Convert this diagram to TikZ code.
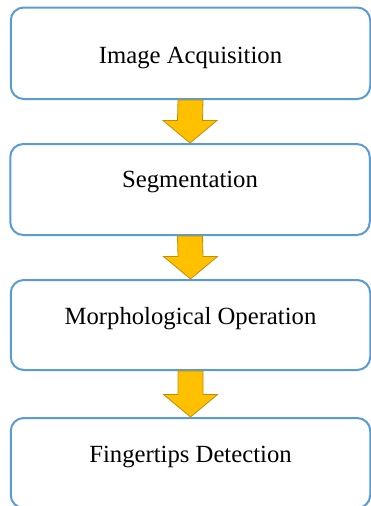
\documentclass[tikz,border=0pt]{standalone}
\usepackage{fontspec}
\setmainfont{Liberation Serif}
\usepackage{tikz}
\usetikzlibrary{calc}
\definecolor{stageblue}{HTML}{5B9BD5}
\definecolor{flowfill}{HTML}{FFC000}
\definecolor{flowline}{HTML}{BF9000}
\tikzstyle{stage}=[
        draw=stageblue,
        line width=2pt,
        rounded corners=13pt,
        fill=white,
        inner sep=0pt,
        minimum width=359.5pt,
        font=\fontsize{24.7}{28}\selectfont
]
\tikzstyle{flow}=[
        draw=flowline,
        fill=flowfill,
        line width=0.8pt,
        line join=miter
]

\begin{document}
\begin{tikzpicture}[x=1pt,y=-1pt]
                        \useasboundingbox (0,0) rectangle (370,506);

                        \node[stage, minimum height=91.5pt, text height=24pt, text depth=4pt] (acq) at (190.5,53.25) {Image Acquisition};
                        \node[stage, minimum height=91pt, text height=17pt, text depth=22pt] (seg) at (190,189.5) {Segmentation};
                        \node[stage, minimum height=90pt, text height=17pt, text depth=19pt] (morph) at (190.5,325) {Morphological Operation};
                        \node[stage, minimum height=90pt, text height=17pt, text depth=19pt] (tips) at (190.5,463) {Fingertips Detection};

                        \foreach \a/\b in {acq/seg,seg/morph,morph/tips} {
                            \draw[flow] ($(\a.south)+(-12.5,0)$) -- ($(\a.south)+(12.5,0)$)
                                -- ($(\b.north)+(12.5,-22.5)$) -- ($(\b.north)+(27,-22.5)$)
                                -- (\b.north)
                                -- ($(\b.north)+(-27,-22.5)$) -- ($(\b.north)+(-12.5,-22.5)$) -- cycle;
                        }

                    \end{tikzpicture}
\end{document}
